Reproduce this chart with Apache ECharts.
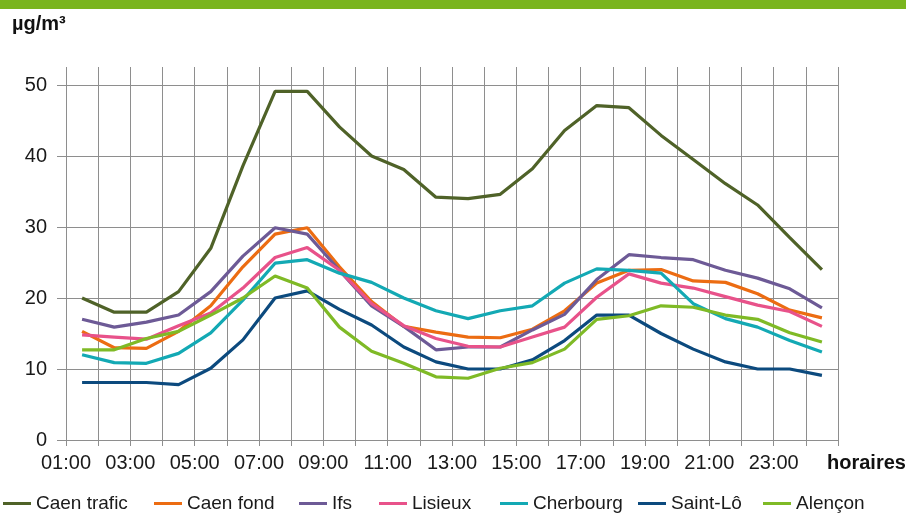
<!DOCTYPE html>
<html><head><meta charset="utf-8">
<script src="https://cdn.jsdelivr.net/npm/echarts@6/dist/echarts.min.js"></script>
<style>html,body{margin:0;padding:0;background:#fff}#c{width:906px;height:516px}</style>
</head><body><div id="c"></div>
<script>
// ---- data ----
const categories = ['01:00','02:00','03:00','04:00','05:00','06:00','07:00','08:00','09:00','10:00','11:00','12:00',
  '13:00','14:00','15:00','16:00','17:00','18:00','19:00','20:00','21:00','22:00','23:00','24:00'];
const tickLabels = ['01:00','03:00','05:00','07:00','09:00','11:00','13:00','15:00','17:00','19:00','21:00','23:00'];
const yTicks = [0, 10, 20, 30, 40, 50];
const seriesNames = ['Caen trafic','Caen fond','Ifs','Lisieux','Cherbourg','Saint-Lô','Alençon'];
const caenTrafic = [20.0,18.0,18.0,20.9,27.0,38.6,49.1,49.1,44.1,40.0,38.1,34.2,34.0,34.6,38.2,43.6,47.1,46.8,42.9,39.5,36.1,33.1,28.5,24.0];
const caenFond   = [15.3,13.0,12.9,15.3,18.9,24.4,29.0,29.9,24.4,19.5,16.0,15.2,14.5,14.4,15.6,18.2,22.1,23.9,24.0,22.4,22.2,20.6,18.3,17.2];
const ifs        = [17.0,15.9,16.6,17.6,20.9,25.9,29.9,29.0,23.9,18.9,16.0,12.7,13.1,13.1,15.5,17.7,22.6,26.1,25.7,25.4,23.9,22.8,21.3,18.6];
const lisieux    = [14.8,14.5,14.2,16.1,17.9,21.4,25.7,27.1,23.9,19.2,16.1,14.3,13.2,13.1,14.5,15.9,20.1,23.4,22.1,21.4,20.2,19.0,18.1,16.0];
const cherbourg  = [12.0,10.9,10.8,12.2,15.1,19.7,24.9,25.4,23.5,22.2,20.0,18.2,17.1,18.2,18.9,22.1,24.1,23.9,23.5,19.2,17.1,15.9,14.0,12.4];
const saintLo    = [8.1,8.1,8.1,7.8,10.1,14.1,20.0,21.0,18.4,16.2,13.1,11.0,10.0,10.0,11.3,14.0,17.6,17.6,15.0,12.8,11.0,10.0,10.0,9.1];
const alencon    = [12.7,12.7,14.3,15.3,17.6,20.0,23.1,21.4,15.9,12.5,10.8,8.9,8.7,10.1,10.9,12.8,17.0,17.5,18.9,18.7,17.6,17.0,15.1,13.8];
const seriesData = [caenTrafic, caenFond, ifs, lisieux, cherbourg, saintLo, alencon];

// ---- style ----
const colors = ['#4f6228','#ec6c12','#6d5a96','#e8528a','#13a9b4','#0c4a7e','#7fba26'];
const FONT = '"Liberation Sans", Arial, sans-serif';
const GRID_COLOR = '#8e8e8e';
const legendLefts = [3, 154, 299, 379, 500, 638, 763];

const boundaryCats = [];
for (let k = 0; k <= categories.length; k++) boundaryCats.push(String(k));

const chart = echarts.init(document.getElementById('c'), null, {renderer: 'canvas'});
chart.setOption({
  animation: false,
  backgroundColor: '#fff',
  color: colors,
  grid: [
    {left: 66, right: 68, top: 85, bottom: 76, containLabel: false},
    {left: 66, right: 68, top: 67, bottom: 76, containLabel: false}
  ],
  xAxis: [
    {type: 'category', gridIndex: 0, data: categories, boundaryGap: true,
     axisLine: {show: true, lineStyle: {color: GRID_COLOR, width: 1}},
     axisTick: {show: false}, axisLabel: {show: false}, splitLine: {show: false}},
    {type: 'category', gridIndex: 1, data: categories, boundaryGap: true,
     axisLine: {show: true, lineStyle: {color: GRID_COLOR, width: 1}},
     axisTick: {show: true, interval: 0, length: 6, lineStyle: {color: GRID_COLOR}},
     axisLabel: {show: false},
     splitLine: {show: true, interval: 0, lineStyle: {color: GRID_COLOR, width: 1}}},
    {type: 'category', gridIndex: 1, data: boundaryCats, boundaryGap: false, position: 'bottom',
     axisLine: {show: false}, axisTick: {show: false}, splitLine: {show: false},
     axisLabel: {show: true, interval: 0, margin: 13, fontSize: 20, color: '#1a1a1a', fontFamily: FONT,
       formatter: (v, idx) => (idx % 2 === 0 && tickLabels[idx / 2]) ? tickLabels[idx / 2] : ''}}
  ],
  yAxis: [
    {type: 'value', gridIndex: 0, min: yTicks[0], max: yTicks[yTicks.length - 1], interval: 10,
     axisLine: {show: false},
     axisTick: {show: true, length: 9, lineStyle: {color: GRID_COLOR}},
     axisLabel: {margin: 19, fontSize: 20, color: '#1a1a1a', fontFamily: FONT},
     splitLine: {show: true, lineStyle: {color: GRID_COLOR, width: 1}}},
    {type: 'value', gridIndex: 1, min: 0, max: 1, show: false}
  ],
  legend: seriesNames.map((n, i) => ({
    data: [n], left: legendLefts[i], top: 494, padding: 0, icon: 'rect',
    itemWidth: 28, itemHeight: 3, selectedMode: false,
    textStyle: {fontSize: 19, color: '#1a1a1a', fontFamily: FONT}
  })),
  series: seriesNames.map((n, i) => ({
    name: n, type: 'line', xAxisIndex: 0, yAxisIndex: 0, data: seriesData[i],
    symbol: 'none', smooth: false, z: 3 + i,
    lineStyle: {width: 3.2, color: colors[i]}, itemStyle: {color: colors[i]}
  })),
  graphic: [
    {type: 'rect', left: 0, top: 0, shape: {width: 906, height: 9}, style: {fill: '#7ab51e'}, silent: true},
    {type: 'text', left: 12, top: 14, style: {text: 'µg/m³', font: 'bold 20px ' + FONT, fill: '#111'}},
    {type: 'text', left: 827, top: 453, style: {text: 'horaires', font: 'bold 20px ' + FONT, fill: '#111'}}
  ]
});
</script></body></html>
